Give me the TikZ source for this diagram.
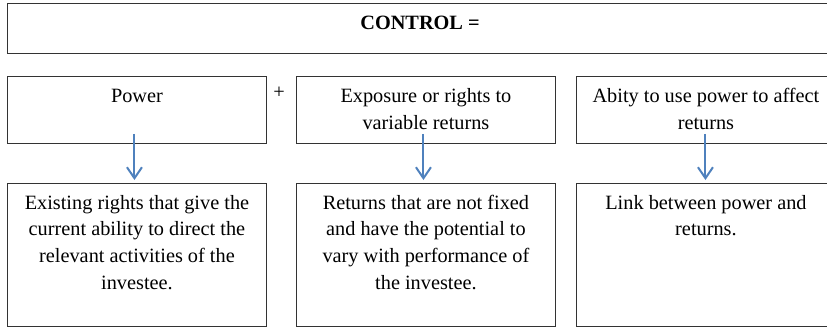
\documentclass[tikz,border=0pt]{standalone}
\usepackage{fontspec}
\setmainfont{Liberation Serif}
\usetikzlibrary{arrows.meta}
\definecolor{arrowblue}{HTML}{4F81BD}
\tikzset{
  box/.style={draw=black!80, line width=0.9pt, minimum width=259pt, inner sep=0pt, anchor=north west},
  txt/.style={font=\fontsize{20.3}{26.7}\selectfont, align=center, inner sep=0pt, anchor=north},
  link/.style={draw=arrowblue, line width=2pt, -{Straight Barb[length=11pt,width=15pt]}},
}
\begin{document}
\begin{tikzpicture}[x=1pt,y=-1pt]
\useasboundingbox (0,0) rectangle (827,330);
\clip (0,0) rectangle (827,330);
% title box
\node[box, minimum width=826pt, minimum height=50pt] (ctrl) at (7,3) {};
\node[font=\fontsize{20.3}{26.7}\selectfont\bfseries, anchor=base, inner sep=0pt] (ctitle) at (420,29) {CONTROL =};
% top row
\node[box, minimum height=67pt] (p1) at (7,76) {};
\node[box, minimum height=67pt] (p2) at (296,76) {};
\node[box, minimum height=67pt] (p3) at (576,76) {};
\node[font=\fontsize{20.3}{26.7}\selectfont, inner sep=0pt] (plus) at (279,92.5) {+};
\node[txt] (t1) at ([yshift=-7.8pt]p1.north) {\strut Power};
\node[txt] (t2) at ([yshift=-7.8pt]p2.north) {\strut Exposure or rights to\\variable returns};
\node[txt] (t3) at ([yshift=-7.8pt]p3.north) {\strut Abity to use power to affect\\returns};
% bottom row
\node[box, minimum height=143pt] (b1) at (7,183) {};
\node[box, minimum height=143pt] (b2) at (296,183) {};
\node[box, minimum height=143pt] (b3) at (576,183) {};
\node[txt] (u1) at ([yshift=-7.3pt]b1.north) {\strut Existing rights that give the\\current ability to direct the\\relevant activities of the\\investee.};
\node[txt] (u2) at ([yshift=-7.3pt]b2.north) {\strut Returns that are not fixed\\and have the potential to\\vary with performance of\\the investee.};
\node[txt] (u3) at ([yshift=-7.3pt]b3.north) {\strut Link between power and\\returns.};
% arrows
\draw[link] ([xshift=-2.5pt,yshift=10pt]p1.south) -- ([xshift=-2.5pt,yshift=3pt]b1.north);
\draw[link] ([xshift=-2.5pt,yshift=10pt]p2.south) -- ([xshift=-2.5pt,yshift=3pt]b2.north);
\draw[link] ([xshift=-0.5pt,yshift=10pt]p3.south) -- ([xshift=-0.5pt,yshift=3pt]b3.north);
\end{tikzpicture}
\end{document}
